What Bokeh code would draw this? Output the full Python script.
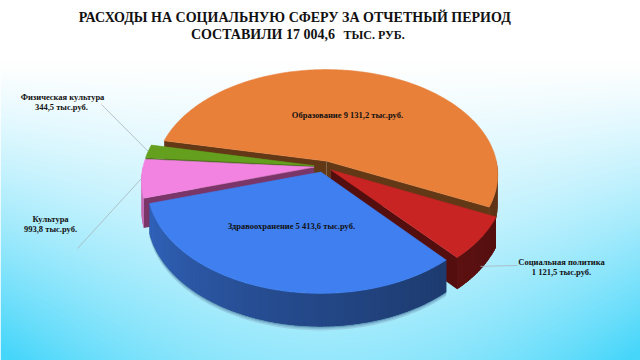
import numpy as np
from bokeh.plotting import figure
from bokeh.models import Range1d
from bokeh.embed import file_html
from bokeh.resources import INLINE
from bokeh.core.properties import value

# ---------------- data ----------------
categories = ["Образование", "Социальная политика", "Здравоохранение", "Культура", "Физическая культура"]
values = [9131.2, 1121.5, 5413.6, 993.8, 344.5]
value_texts = ["9 131,2", "1 121,5", "5 413,6", "993,8", "344,5"]
unit_text = "тыс.руб."
title_line1 = "РАСХОДЫ НА СОЦИАЛЬНУЮ СФЕРУ ЗА ОТЧЕТНЫЙ  ПЕРИОД"
title_line2a = "СОСТАВИЛИ  17 004,6"
title_line2b = "ТЫС. РУБ."

# ---------------- style ----------------
top_rgb = [(232, 128, 58), (200, 36, 36), (63, 127, 240), (242, 131, 224), (100, 160, 30)]
radial_rgb = [(98, 56, 22), (84, 14, 14), (26, 51, 96), (122, 54, 104), (58, 98, 18)]
FONT = "Liberation Serif"
W, H = 640, 360


def hexc(c):
    return "#%02x%02x%02x" % tuple(int(max(0, min(255, round(x)))) for x in c)


p = figure(width=W, height=H, x_range=Range1d(0, W), y_range=Range1d(0, H),
           output_backend="svg", toolbar_location=None, min_border=0)
p.axis.visible = False
p.grid.visible = False
p.outline_line_color = None
p.background_fill_color = "white"
p.border_fill_color = "white"

# ---------------- background gradient ----------------
yy, xx = np.mgrid[0:H, 0:W].astype(float)
dxn = np.abs(xx - 320.0) / 320.0
fr = np.clip((yy - 60.0) / 290.0, 0, None) ** 1.2 * (0.55 + 0.45 * dxn ** 2)
fr = np.clip(fr, 0, 1)
c0 = np.array([255.0, 255.0, 255.0])
c1 = np.array([70.0, 214.0, 250.0])
rgb = c0 + (c1 - c0) * fr[..., None]
img = np.empty((H, W), dtype=np.uint32)
view = img.view(dtype=np.uint8).reshape((H, W, 4))
view[..., 0] = rgb[..., 0].astype(np.uint8)
view[..., 1] = rgb[..., 1].astype(np.uint8)
view[..., 2] = rgb[..., 2].astype(np.uint8)
view[..., 3] = 255
p.image_rgba(image=[img[::-1].copy()], x=0, y=0, dw=W, dh=H)

# ---------------- 3D pie geometry ----------------
cx, cy = 323.0, 166.0
A, B, K, D, E = 171.0, 104.4, 0.127, 28.6, 0.055

total = sum(values)
fracs = [v / total for v in values]
theta0 = -25.0 + 360.0 * fracs[0]


def proj(u, v, h):
    s = 1.0 / (1.0 + K * v)
    return cx + A * u * s, cy - B * v * s + D * h * s


slices = []
hi = theta0
for i, f in enumerate(fracs):
    lo = hi - 360.0 * f
    mid = 0.5 * (lo + hi)
    slices.append(dict(i=i, lo=lo, hi=hi, mid=mid,
                       du=E * np.cos(np.radians(mid)), dv=E * np.sin(np.radians(mid))))
    hi = lo

xs, ys, fills, lws = [], [], [], []


def add(poly, col, lw=0.0):
    xs.append([q[0] for q in poly])
    ys.append([H - q[1] for q in poly])
    fills.append(col)
    lws.append(lw)


def rim(sl, ang, h):
    a = np.radians(ang)
    return proj(sl["du"] + np.cos(a), sl["dv"] + np.sin(a), h)


def light(tm):
    tt = (tm + 180.0) / 180.0
    return 0.40 + 0.45 * (1 - tt) ** 1.5


# soft shadow under the front rim
fr_sl = slices[2]
for off, col in [(4.0, (150, 205, 228)), (2.5, (125, 185, 212)), (1.2, (95, 150, 180))]:
    ts = np.linspace(fr_sl["lo"], fr_sl["hi"], 80)
    pts = [rim(fr_sl, t, 1) for t in ts]
    poly = [(x0, y0 + off) for x0, y0 in pts] + [rim(fr_sl, t, 0.6) for t in ts[::-1]]
    add(poly, hexc(col))

order = sorted(slices, key=lambda s: -np.sin(np.radians(s["mid"])))
for sl in order:
    i = sl["i"]
    top = top_rgb[i]
    c = proj(sl["du"], sl["dv"], 0)
    cb = proj(sl["du"], sl["dv"], 1)
    m = proj(sl["du"] + 0.5 * np.cos(np.radians(sl["mid"])),
             sl["dv"] + 0.5 * np.sin(np.radians(sl["mid"])), 0)
    # radial walls
    for ang in (sl["lo"], sl["hi"]):
        ed = rim(sl, ang, 0)
        dx, dy = ed[0] - c[0], ed[1] - c[1]
        body = np.sign(dx * (m[1] - c[1]) - dy * (m[0] - c[0]))
        down = np.sign(dx)
        if body != down:
            add([c, ed, rim(sl, ang, 1), cb], hexc(radial_rgb[i]))
    # outer curved wall (front half only)
    for mm in (-1, 0, 1):
        a0 = max(sl["lo"], -180.0 + 360 * mm)
        a1 = min(sl["hi"], 0.0 + 360 * mm)
        if a1 - a0 <= 0.01:
            continue
        n = max(2, int((a1 - a0) / 1.0) + 1)
        ts = np.linspace(a0, a1, n + 1)
        back = [rim(sl, t, 0) for t in ts] + [rim(sl, t, 1) for t in ts[::-1]]
        add(back, hexc([ch * light(0.5 * (a0 + a1) - 360 * mm) for ch in top]))
        for t1, t2 in zip(ts[:-1], ts[1:]):
            col = hexc([ch * light(0.5 * (t1 + t2) - 360 * mm) for ch in top])
            t2e = t2 + 0.4 if t2 < a1 else t2
            add([rim(sl, t1, 0), rim(sl, t2e, 0), rim(sl, t2e, 1), rim(sl, t1, 1)], col)
    # top face
    ts = np.linspace(sl["lo"], sl["hi"], max(3, int((sl["hi"] - sl["lo"]) / 1.0) + 1))
    add([c] + [rim(sl, t, 0) for t in ts], hexc(top), 0.6)

p.patches(xs, ys, fill_color=fills, line_color=fills, line_width=lws)


# ---------------- labels ----------------
def T(x, y, text, size, align="center"):
    p.text([x], [H - y], text=[text], text_font=value(FONT), text_font_style="bold",
           text_font_size=size, text_align=align, text_baseline="middle", text_color="#111111")


# inside labels at half radius of their slices
for idx in (0, 2):
    sl = slices[idx]
    lx, ly = proj(sl["du"] + 0.5 * np.cos(np.radians(sl["mid"])),
                  sl["dv"] + 0.5 * np.sin(np.radians(sl["mid"])), 0)
    T(lx - 4, ly, f"{categories[idx]} {value_texts[idx]} {unit_text}", "8.5px")

# outside labels with leader lines
outside = [
    (1, 561, 261, 517, 265, 0.9),
    (3, 50, 218, 77, 248, 0.0),
    (4, 62, 96, 101, 104, 0.0),
]
for idx, lx, ly, sx, sy, hh in outside:
    sl = slices[idx]
    ex, ey = rim(sl, sl["mid"], hh)
    p.line([sx, ex], [H - sy, H - ey], line_color="#A8B4BA", line_width=0.8)
    T(lx, ly, categories[idx], "8.5px")
    vt = value_texts[idx] + ("  " if idx == 4 else " ") + unit_text
    T(lx, ly + 10, vt, "8.5px")

# title
T(296, 17, title_line1, "14px")
T(338, 33.5, title_line2a, "14px", align="right")
T(343, 34, title_line2b, "12px", align="left")

open("out.html", "w").write(file_html(p, INLINE))
